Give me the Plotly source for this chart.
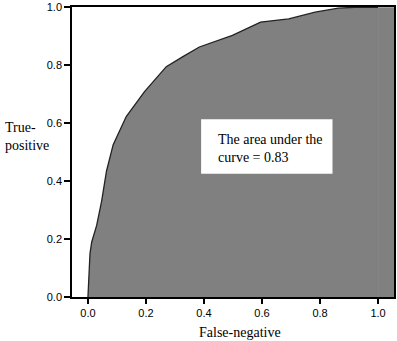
import plotly.graph_objects as go

# ROC curve points (False-negative axis, True-positive axis)
fpr = [0.0, 0.007, 0.013, 0.03, 0.047, 0.064, 0.087, 0.132, 0.195, 0.27, 0.326, 0.384,
       0.498, 0.595, 0.692, 0.783, 0.863, 0.92, 1.0]
tpr = [0.0, 0.15, 0.19, 0.247, 0.33, 0.435, 0.526, 0.623, 0.709, 0.795, 0.829, 0.863,
       0.903, 0.949, 0.96, 0.983, 0.997, 1.0, 1.0]
tick_vals = [0.0, 0.2, 0.4, 0.6, 0.8, 1.0]
tick_text = ["0.0", "0.2", "0.4", "0.6", "0.8", "1.0"]
auc_text = "The area under the<br>curve = 0.83"

fig = go.Figure()
fig.add_trace(go.Scatter(
    x=fpr, y=tpr, mode="lines", fill="tozeroy",
    fillcolor="#808080", line=dict(color="#222222", width=1.3),
    hoverinfo="skip", showlegend=False))

serif = "Liberation Serif, Times New Roman, serif"
sans = "Liberation Sans, Arial, sans-serif"

fig.update_layout(
    width=397, height=341,
    margin=dict(l=72, r=1, t=6, b=44),
    paper_bgcolor="white", plot_bgcolor="white",
    xaxis=dict(range=[-0.055, 1.055], tickvals=tick_vals, ticktext=tick_text,
               showgrid=False, zeroline=False, showline=True, mirror=True,
               linecolor="black", linewidth=1.5, ticks="outside", ticklen=5,
               tickwidth=1.5, tickcolor="black",
               tickfont=dict(family=sans, size=11, color="black")),
    yaxis=dict(range=[0, 1.001], tickvals=tick_vals, ticktext=tick_text,
               showgrid=False, zeroline=False, showline=True, mirror=True,
               linecolor="black", linewidth=1.5, ticks="outside", ticklen=6,
               tickwidth=1.5, tickcolor="black", ticklabeloverflow="allow",
               tickfont=dict(family=sans, size=11, color="black")),
    shapes=[
        dict(type="rect", xref="x", yref="y", x0=1.0, x1=1.055, y0=0, y1=1.0,
             fillcolor="#808080", line=dict(width=0), layer="below"),
        dict(type="rect", xref="paper", yref="paper", x0=0.401, x1=0.809,
             y0=0.425, y1=0.613, fillcolor="white", line=dict(width=0)),
    ],
    annotations=[
        dict(text=auc_text, xref="paper", yref="paper", x=0.448, y=0.512,
             xanchor="left", yanchor="middle", align="left", showarrow=False,
             font=dict(family=serif, size=14, color="black")),
        dict(text="True-<br>positive", xref="paper", yref="paper", x=-0.213, y=0.555,
             xanchor="left", yanchor="middle", align="left", showarrow=False,
             font=dict(family=serif, size=14, color="black")),
        dict(text="False-negative", xref="paper", yref="paper", x=0.522, y=-0.123,
             xanchor="center", yanchor="middle", showarrow=False,
             font=dict(family=serif, size=14, color="black")),
    ],
)

fig.write_html("out.html", config={"displayModeBar": False},
               post_script="document.body.style.margin='0';")
